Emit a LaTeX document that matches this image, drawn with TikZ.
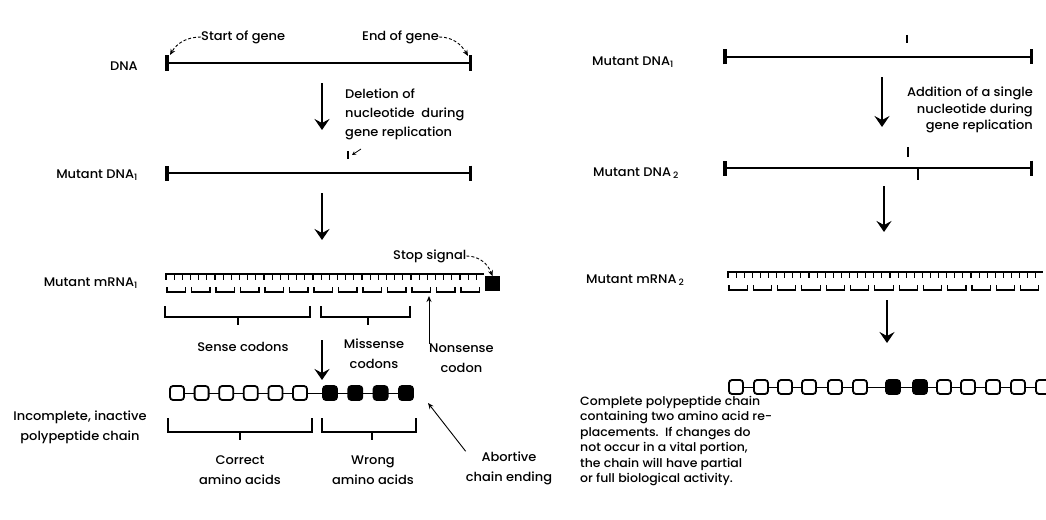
\documentclass[tikz,border=0pt]{standalone}
\usepackage{fontspec}
\setmainfont{Poppins Medium}[FakeStretch=1.04]
\usetikzlibrary{arrows.meta,positioning}

\newcommand{\codons}[4]{%
  \draw[line width=1.1pt] (#1,#2) -- ({#1+#3*#4},#2);
  \foreach \k in {1,...,#3}{
    \foreach \j in {0,1,2}{
      \draw[line width=1.1pt] ({#1+(\k-1)*#4+\j*#4/3+1},#2) -- ++(0,6);
    }
    \draw[line width=1.1pt] ({#1+(\k-1)*#4+2},{#2+13}) -- ++(0,5) -- ++({#4-6},0) -- ++(0,-5);
  }
}

\tikzset{
  lbl/.style={font=\fontsize{12.5}{15}\selectfont, inner sep=0pt},
  twoline/.style={lbl, align=center, font=\fontsize{12.5}{20}\selectfont},
  dnaline/.style={line width=2.4pt, {Bar[width=15pt,line width=3.5pt]}-{Bar[width=15pt,line width=3.5pt]}},
  flow/.style={line width=2.6pt, -{Stealth[length=11pt,width=15pt,inset=4pt]}},
  pointer/.style={line width=0.9pt, -{Stealth[length=6pt,width=5pt]}},
  dashpointer/.style={pointer, dash pattern=on 3pt off 2pt},
  bead/.style={draw, line width=1.8pt, rounded corners=3pt, minimum size=14pt, inner sep=0pt},
  bracketline/.style={line width=1.2pt},
  tickmark/.style={line width=2.6pt},
}

\begin{document}
\begin{tikzpicture}[x=1pt, y=-1pt]
  \useasboundingbox (0,0) rectangle (1046,519);

  % left: deletion
  \node[lbl, anchor=east] (dna) at (138,66) {DNA};
  \coordinate (dnaL) at (165,63);
  \coordinate (dnaR) at (472,63);
  \draw[dnaline] (dnaL) -- (dnaR);
  \node[lbl, anchor=west] (start) at (201,37) {Start of gene};
  \node[lbl, anchor=west] (end) at (362,37) {End of gene};
  \draw[dashpointer] (start.west) to[out=180, in=60] ([shift={(5,-8)}]dnaL);
  \draw[dashpointer] (end.east) to[out=0, in=120] ([shift={(-4,-7)}]dnaR);

  \draw[flow] (322,83) -- (322,130);
  \node[lbl, anchor=west, align=left, font=\fontsize{12.5}{19}\selectfont] (deletion) at (345,114)
    {Deletion of\\nucleotide~~during\\gene replication};
  \coordinate (lost) at (348,155);
  \draw[tickmark] ([yshift=-4]lost) -- ([yshift=4]lost);
  \draw[pointer, line width=0.8pt, -{Stealth[length=4pt,width=4pt]}] (361,149) -- ([xshift=4]lost);

  \node[lbl, anchor=east] (mdna1) at (138,175) {Mutant DNA\textsubscript{1}};
  \draw[dnaline] (165,173) -- (472,173);
  \draw[flow] (322,193) -- (322,240);

  \node[lbl, anchor=east] (mrna1) at (138,283) {Mutant mRNA\textsubscript{1}};
  \codons{165}{274}{13}{24.5}
  \node[draw, fill=black, minimum size=14pt, inner sep=0pt] (stop) at (492.5,283.5) {};
  \node[lbl, anchor=west] (stoplbl) at (393,256) {Stop signal};
  \draw[dashpointer] (stoplbl.east) to[out=0, in=110] (stop.north);

  \draw[bracketline] (165,306) -- (165,317) -- (310,317) -- (310,306);
  \draw[bracketline] (238,317) -- (238,325);
  \draw[bracketline] (321,306) -- (321,317) -- (410,317) -- (410,306);
  \draw[bracketline] (368,317) -- (368,325);
  \node[lbl] (sense) at (243,347) {Sense codons};
  \node[twoline] (missense) at (374,354) {Missense\\codons};
  \node[twoline, anchor=north west] (nonsense) at (429,344) {Nonsense\\codon};
  \coordinate (nscodon) at (429,296);
  \draw[pointer] (nonsense.north west) -- (nscodon);

  \draw[flow] (322,340) -- (322,380);

  \draw[line width=1pt] (177,393) -- (406,393);
  \foreach \x in {177,201.6,226.2,250.8,275.4,300}
    \node[bead, fill=white] at (\x,393) {};
  \foreach \x in {330,355.3,380.6,406}
    \node[bead, fill=black] at (\x,393) {};
  \coordinate (chainend) at (428,403);
  \node[twoline] (incomplete) at (80,427) {Incomplete, inactive\\polypeptide chain};

  \draw[bracketline] (168,418) -- (168,432) -- (312,432) -- (312,418);
  \draw[bracketline] (240,432) -- (240,440);
  \draw[bracketline] (322,418) -- (322,432) -- (416,432) -- (416,418);
  \draw[bracketline] (372,432) -- (372,440);
  \node[twoline] (correct) at (240,470) {Correct\\amino acids};
  \node[twoline] (wrong) at (373,470) {Wrong\\amino acids};
  \node[twoline] (abortive) at (509,468) {Abortive\\chain ending};
  \draw[pointer] (abortive.north west) -- (chainend);

  % right: addition
  \node[lbl, anchor=west] (rdna1) at (592,62) {Mutant DNA\textsubscript{1}};
  \draw[dnaline] (723,57) -- (1033,57);
  \draw[tickmark] (907,35) -- (907,43);
  \draw[flow] (882,77) -- (882,127);
  \node[lbl, anchor=east, align=right, font=\fontsize{12.5}{16.5}\selectfont] (addition) at (1033,110)
    {Addition of a single\\nucleotide during\\gene replication};
  \draw[tickmark] (908,147) -- (908,157);

  \node[lbl, anchor=west] (rdna2) at (593,173) {Mutant DNA\,\textsubscript{2}};
  \draw[dnaline] (723,168) -- (1033,168);
  \draw[tickmark, line width=1.6pt] (918,168) -- (918,180);
  \draw[flow] (884,186) -- (884,232);

  \node[lbl, anchor=west] (rmrna2) at (586,280) {Mutant mRNA\,\textsubscript{2}};
  \codons{727}{272}{13}{24.3}
  \draw[flow] (887,300) -- (887,343);

  \draw[line width=1pt] (736,387) -- (1046,387);
  \foreach \x in {736,761,785,809,835,860,944,968,993,1018,1043}
    \node[bead, fill=white] at (\x,387) {};
  \foreach \x in {893,920}
    \node[bead, fill=black] at (\x,387) {};

  \node[lbl, anchor=north west, align=left, font=\fontsize{12}{15.5}\selectfont] (complete) at (580,396)
    {Complete polypeptide chain\\containing two amino acid re-\\placements.~~If changes do\\not occur in a vital portion,\\the chain will have partial\\or full biological activity.};
\end{tikzpicture}
\end{document}
